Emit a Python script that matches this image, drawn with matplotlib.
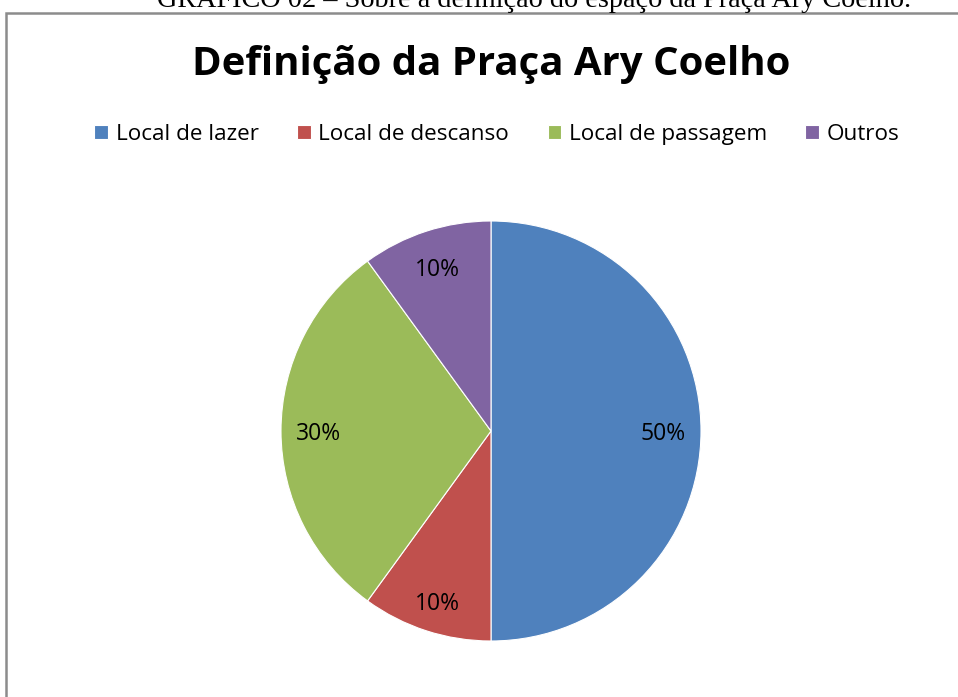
import matplotlib.pyplot as plt
from matplotlib.patches import Rectangle

# dados do gráfico
categorias = ["Local de lazer", "Local de descanso", "Local de passagem", "Outros"]
percentuais = [50, 10, 30, 10]
cores = ["#4F81BD", "#C0504D", "#9BBB59", "#8064A2"]

W, H = 958, 697
fig = plt.figure(figsize=(W / 100, H / 100), dpi=100)

# legenda do documento, cortada no topo
fig.text(534 / W, 1 - 7 / H, "GRÁFICO 02 – Sobre a definição do espaço da Praça Ary Coelho.",
         ha="center", va="baseline", fontsize=20.3, family="Liberation Serif")

# moldura do gráfico
fig.patches.append(Rectangle((5.5 / W, -0.1), 1.2, 1 - 12.5 / H + 0.1, transform=fig.transFigure,
                             fill=False, edgecolor="#8c8c8c", linewidth=1.8))

fig.text(491 / W, 1 - 65 / H, "Definição da Praça Ary Coelho", ha="center", va="center",
         fontsize=28.9, fontweight="bold", family="Open Sans")

r = 210
cx, cy = 491, 431
ax = fig.add_axes([(cx - r) / W, 1 - (cy + r) / H, 2 * r / W, 2 * r / H])
wedges, texts, autotexts = ax.pie(percentuais, colors=cores, startangle=90, counterclock=False,
                                  autopct="%d%%", pctdistance=0.82,
                                  wedgeprops=dict(linewidth=0.8, edgecolor="white"),
                                  textprops=dict(fontsize=16.5, family="Open Sans"))
# rótulos um pouco mais abaixo, como no Excel
for t in autotexts:
    x, y = t.get_position()
    t.set_position((x, y - 0.015))
autotexts[1].set_position((autotexts[1].get_position()[0], autotexts[1].get_position()[1] - 0.03))

ax.set_xlim(-1, 1)
ax.set_ylim(-1, 1)
ax.set_aspect("equal")

fig.legend(wedges, categorias, loc="center", bbox_to_anchor=(497 / W, 1 - 134.5 / H), ncol=4,
           frameon=False, prop=dict(family="Open Sans", size=16.2), handlelength=0.6,
           handleheight=0.6, handletextpad=0.35, columnspacing=1.7)

fig.savefig("out.png", dpi=100)
